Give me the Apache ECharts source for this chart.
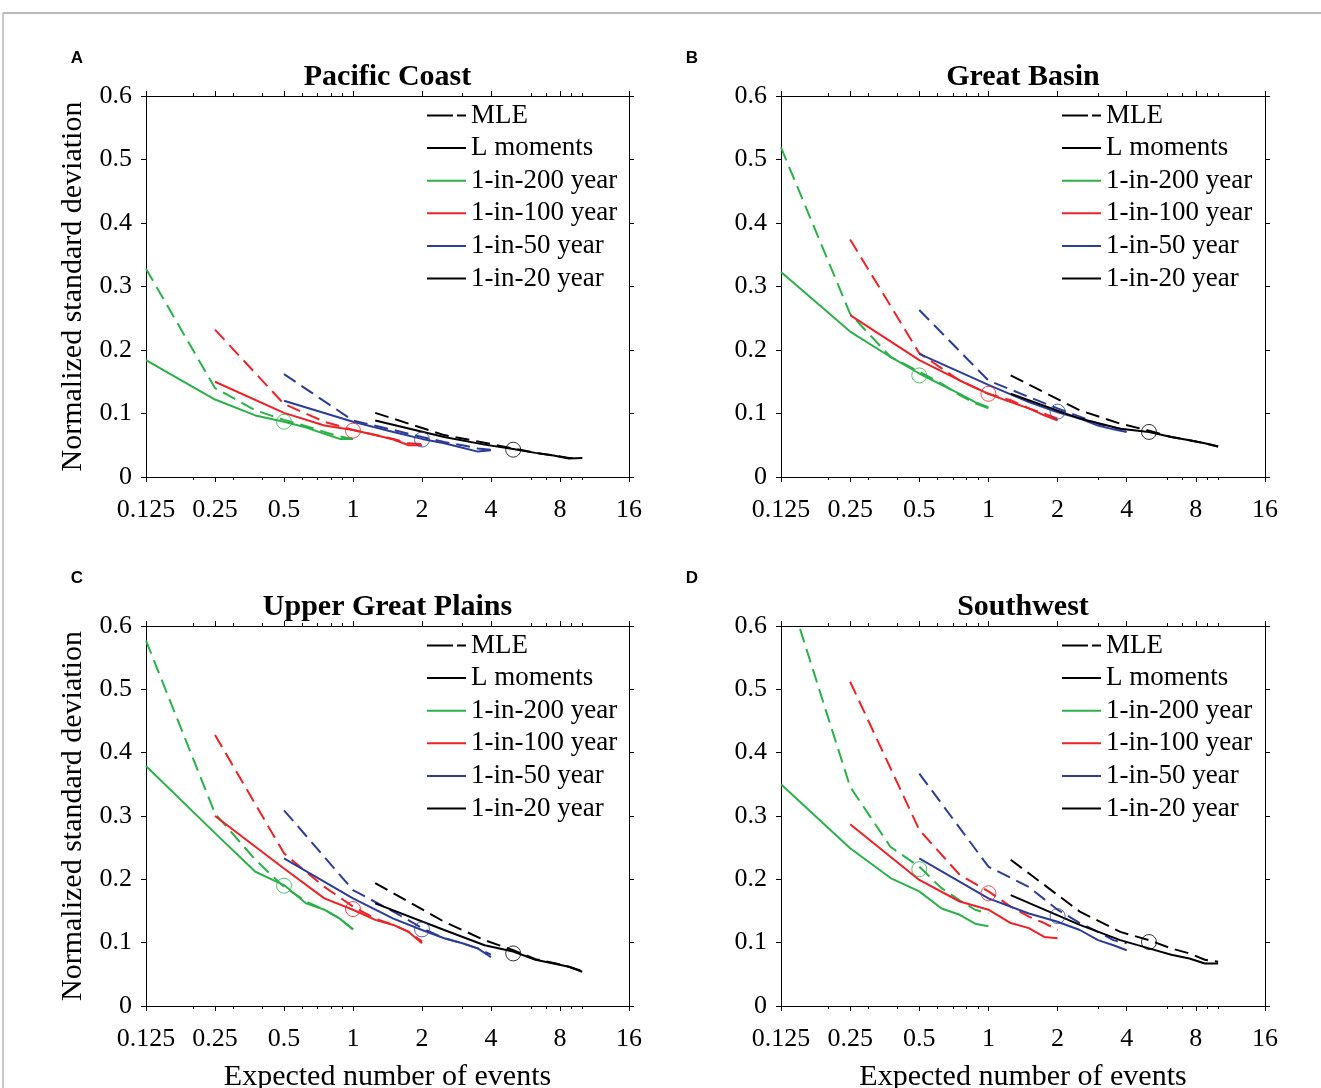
<!DOCTYPE html>
<html>
<head>
<meta charset="utf-8">
<script src="https://cdn.jsdelivr.net/npm/echarts@6/dist/echarts.min.js"></script>
<style>
html,body{margin:0;padding:0;background:#fff;}
#chart{width:1321px;height:1088px;}
</style>
</head>
<body>
<div id="chart"></div>
<script>
// ---------- data ----------
const periodNames = ['1-in-200 year', '1-in-100 year', '1-in-50 year', '1-in-20 year'];
// expected number of events (record length 25..200 yr divided by return period)
const events200 = [0.125, 0.25, 0.375, 0.5, 0.625, 0.75, 0.875, 1];
const events100 = [0.25, 0.5, 0.75, 1, 1.25, 1.5, 1.75, 2];
const events50  = [0.5, 1, 1.5, 2, 2.5, 3, 3.5, 4];
const events20  = [1.25, 2.5, 3.75, 5, 6.25, 7.5, 8.75, 10];
const circleEvents = [0.5, 1, 2, 5];

const xMajorTicks = [0.125, 0.25, 0.5, 1, 2, 4, 8, 16];
const xMinorTicks = [0.2, 0.3, 0.4, 0.6, 0.7, 0.8, 0.9, 3, 6, 7, 9, 10];

const panelTitles = ['Pacific Coast', 'Great Basin', 'Upper Great Plains', 'Southwest'];
const panelLetters = ['A', 'B', 'C', 'D'];

// rows: 1-in-200, 1-in-100, 1-in-50, 1-in-20
const pacificLmom = [
  [0.184, 0.122, 0.097, 0.087, 0.078, 0.068, 0.060, 0.060],
  [0.150, 0.101, 0.081, 0.074, 0.066, 0.059, 0.050, 0.050],
  [0.120, 0.087, 0.071, 0.060, 0.053, 0.046, 0.040, 0.042],
  [0.089, 0.063, 0.051, 0.044, 0.038, 0.034, 0.029, 0.030]
];
const pacificMle = [
  [0.328, 0.140, 0.105, 0.090, 0.080, 0.071, 0.064, 0.060],
  [0.232, 0.115, 0.087, 0.074, 0.066, 0.060, 0.053, 0.052],
  [0.162, 0.089, 0.074, 0.063, 0.055, 0.050, 0.045, 0.043],
  [0.101, 0.066, 0.054, 0.045, 0.038, 0.034, 0.030, 0.030]
];
const pacificCircles = [0.087, 0.073, 0.059, 0.043];

const basinLmom = [
  [0.323, 0.229, 0.189, 0.163, 0.145, 0.131, 0.118, 0.110],
  [0.255, 0.184, 0.152, 0.131, 0.118, 0.108, 0.097, 0.089],
  [0.194, 0.145, 0.118, 0.102, 0.092, 0.081, 0.075, 0.071],
  [0.131, 0.092, 0.076, 0.071, 0.063, 0.058, 0.053, 0.048]
];
const basinMle = [
  [0.519, 0.257, 0.189, 0.166, 0.147, 0.129, 0.116, 0.108],
  [0.374, 0.195, 0.152, 0.131, 0.121, 0.108, 0.100, 0.092],
  [0.263, 0.152, 0.126, 0.108, 0.095, 0.084, 0.078, 0.074],
  [0.160, 0.105, 0.084, 0.073, 0.063, 0.058, 0.053, 0.048]
];
const basinCircles = [0.160, 0.131, 0.103, 0.071];

const plainsLmom = [
  [0.379, 0.273, 0.212, 0.191, 0.162, 0.152, 0.138, 0.121],
  [0.300, 0.217, 0.170, 0.152, 0.136, 0.128, 0.117, 0.099],
  [0.233, 0.170, 0.138, 0.120, 0.107, 0.099, 0.091, 0.077],
  [0.162, 0.120, 0.096, 0.086, 0.073, 0.067, 0.062, 0.054]
];
const plainsMle = [
  [0.577, 0.304, 0.231, 0.188, 0.165, 0.152, 0.138, 0.121],
  [0.428, 0.241, 0.188, 0.157, 0.138, 0.128, 0.117, 0.102],
  [0.309, 0.183, 0.149, 0.123, 0.107, 0.099, 0.091, 0.081],
  [0.194, 0.133, 0.104, 0.088, 0.074, 0.068, 0.062, 0.055]
];
const plainsCircles = [0.190, 0.153, 0.121, 0.083];

const southwestLmom = [
  [0.350, 0.249, 0.202, 0.181, 0.154, 0.144, 0.130, 0.126],
  [0.287, 0.199, 0.165, 0.152, 0.131, 0.123, 0.109, 0.107],
  [0.233, 0.170, 0.146, 0.133, 0.120, 0.104, 0.096, 0.088],
  [0.175, 0.128, 0.104, 0.091, 0.081, 0.075, 0.067, 0.067]
];
const southwestMle = [
  [0.690, 0.346, 0.251, 0.220, 0.186, 0.167, 0.152, 0.146],
  [0.512, 0.278, 0.207, 0.181, 0.157, 0.141, 0.131, 0.120],
  [0.367, 0.220, 0.188, 0.152, 0.131, 0.117, 0.104, 0.099],
  [0.231, 0.149, 0.117, 0.104, 0.091, 0.083, 0.073, 0.070]
];
const southwestCircles = [0.216, 0.178, 0.142, 0.101];

// ---------- build ----------
const eventsByPeriod = [events200, events100, events50, events20];
const panelLmom = [pacificLmom, basinLmom, plainsLmom, southwestLmom];
const panelMle = [pacificMle, basinMle, plainsMle, southwestMle];
const panelCircles = [pacificCircles, basinCircles, plainsCircles, southwestCircles];

const colors = ['#2bb04a', '#ec2227', '#2b3d97', '#000000'];
const SERIF = "'Liberation Serif','Times New Roman',serif";
const grids = [
  {left: 146, top: 96, width: 483, height: 381},
  {left: 781, top: 96, width: 484, height: 381},
  {left: 146, top: 626, width: 483, height: 380},
  {left: 781, top: 626, width: 484, height: 380}
];
const letterPos = [[77, 58], [692, 58], [77, 578], [692, 578]];

const xAxes = [], yAxes = [], series = [], legends = [], graphics = [];
const blk = {color: '#000', width: 1};

grids.forEach((gr, g) => {
  const common = {type: 'log', logBase: 2, min: 0.125, max: 16, gridIndex: g,
    splitLine: {show: false}, axisPointer: {show: false}};
  xAxes.push(Object.assign({}, common, {
    position: 'bottom',
    axisLine: {show: true, lineStyle: blk},
    axisTick: {show: true, inside: false, length: 5, lineStyle: blk, customValues: xMajorTicks},
    axisLabel: {show: true, customValues: xMajorTicks, formatter: v => String(v), hideOverlap: false,
      fontFamily: SERIF, fontSize: 26, color: '#000', margin: 20},
    name: g >= 2 ? 'Expected number of events' : '',
    nameLocation: 'middle', nameGap: 56,
    nameTextStyle: {fontFamily: SERIF, fontSize: 30, color: '#000'}
  }));
  xAxes.push(Object.assign({}, common, {
    position: 'bottom',
    axisLine: {show: false},
    axisTick: {show: true, inside: false, length: 3, lineStyle: blk, customValues: xMinorTicks},
    axisLabel: {show: false}
  }));
  xAxes.push(Object.assign({}, common, {
    position: 'top',
    axisLine: {show: true, lineStyle: blk},
    axisTick: {show: true, inside: false, length: 5, lineStyle: blk, customValues: xMajorTicks},
    axisLabel: {show: false}
  }));
  xAxes.push(Object.assign({}, common, {
    position: 'top',
    axisLine: {show: false},
    axisTick: {show: true, inside: false, length: 3, lineStyle: blk, customValues: xMinorTicks},
    axisLabel: {show: false}
  }));

  const ycommon = {type: 'value', min: 0, max: 0.6, interval: 0.1, gridIndex: g,
    splitLine: {show: false}, axisLine: {show: true, lineStyle: blk},
    axisTick: {show: true, inside: false, length: 5, lineStyle: blk}};
  yAxes.push(Object.assign({}, ycommon, {
    position: 'left',
    axisLabel: {fontFamily: SERIF, fontSize: 26, color: '#000', margin: 14,
      formatter: v => (v === 0 ? '0' : v.toFixed(1))},
    name: (g % 2 === 0) ? 'Normalized standard deviation' : '',
    nameLocation: 'middle', nameGap: 58,
    nameTextStyle: {fontFamily: SERIF, fontSize: 30, color: '#000'}
  }));
  yAxes.push(Object.assign({}, ycommon, {position: 'right', axisLabel: {show: false}}));

  const xi = g * 4, yi = g * 2;
  for (let k = 0; k < 4; k++) {
    const ev = eventsByPeriod[k];
    series.push({
      type: 'line', name: periodNames[k], xAxisIndex: xi, yAxisIndex: yi,
      data: ev.map((x, i) => [x, panelLmom[g][k][i]]),
      symbol: 'none', clip: true, z: 3,
      lineStyle: {color: colors[k], width: 2, type: 'solid'}, itemStyle: {color: colors[k]}
    });
    series.push({
      type: 'line', name: periodNames[k] + ' (MLE)', xAxisIndex: xi, yAxisIndex: yi,
      data: ev.map((x, i) => [x, panelMle[g][k][i]]),
      symbol: 'none', clip: true, z: 3,
      lineStyle: {color: colors[k], width: 2, type: [14, 7]}, itemStyle: {color: colors[k]}
    });
    series.push({
      type: 'scatter', name: periodNames[k] + ' (100 yr)', xAxisIndex: xi, yAxisIndex: yi,
      data: [[circleEvents[k], panelCircles[g][k]]],
      symbol: 'circle', symbolSize: 15, z: 4,
      itemStyle: {color: 'rgba(0,0,0,0)', borderColor: colors[k], borderWidth: 1}
    });
  }
  if (g === 0) {
    series.push({type: 'line', name: 'MLE', xAxisIndex: 0, yAxisIndex: 0, data: [],
      symbol: 'none', lineStyle: {color: '#000', width: 3, type: [26, 4]}, itemStyle: {color: '#000'}});
    series.push({type: 'line', name: 'L moments', xAxisIndex: 0, yAxisIndex: 0, data: [],
      symbol: 'none', lineStyle: {color: '#000', width: 2, type: 'solid'}, itemStyle: {color: '#000'}});
  }

  legends.push({
    show: true, orient: 'vertical', left: gr.left + 280, top: gr.top + 6,
    itemWidth: 39, itemHeight: 12, itemGap: 5.6, padding: 0,
    selectedMode: false, backgroundColor: 'transparent',
    itemStyle: {opacity: 0, color: 'rgba(0,0,0,0)', borderWidth: 0},
    data: ['MLE', 'L moments'].concat(periodNames),
    textStyle: {fontFamily: SERIF, fontSize: 27, lineHeight: 26, color: '#000'}
  });

  graphics.push({
    type: 'text', x: gr.left + gr.width / 2, y: gr.top - 19,
    style: {text: panelTitles[g], font: 'bold 30px ' + SERIF, fill: '#000',
      textAlign: 'center', textVerticalAlign: 'middle'}
  });
  graphics.push({
    type: 'text', x: letterPos[g][0], y: letterPos[g][1],
    style: {text: panelLetters[g], font: "bold 17px 'Liberation Sans', Arial, sans-serif", fill: '#000',
      textAlign: 'center', textVerticalAlign: 'middle'}
  });
});

graphics.push({type: 'line', shape: {x1: 3, y1: 13, x2: 1321, y2: 13}, style: {stroke: '#b8b8b8', lineWidth: 2}});
graphics.push({type: 'line', shape: {x1: 3, y1: 13, x2: 3, y2: 1088}, style: {stroke: '#b8b8b8', lineWidth: 1.5}});

const chart = echarts.init(document.getElementById('chart'), null, {renderer: 'canvas'});
chart.setOption({
  animation: false,
  backgroundColor: '#fff',
  grid: grids.map(g => Object.assign({containLabel: false, outerBoundsMode: 'none'}, g)),
  xAxis: xAxes,
  yAxis: yAxes,
  legend: legends,
  series: series,
  graphic: graphics
});
</script>
</body>
</html>
